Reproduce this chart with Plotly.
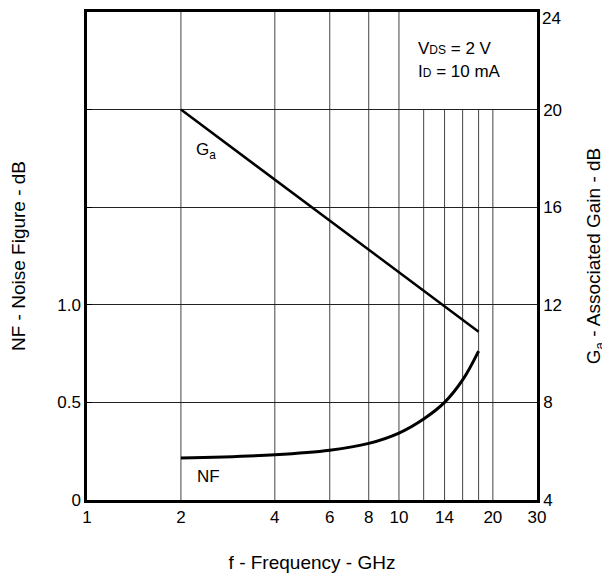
import numpy as np
import plotly.graph_objects as go

# Data
freq_ghz = [2, 4, 6, 8, 10, 12, 14, 16, 18]
gain_db = [20.0, 17.13, 15.45, 14.26, 13.34, 12.58, 11.94, 11.39, 10.9]
nf_db = [0.215, 0.232, 0.255, 0.29, 0.343, 0.415, 0.50, 0.615, 0.763]

x_tick_vals = [1, 2, 4, 6, 8, 10, 14, 20, 27.7]
x_tick_text = ["1", "2", "4", "6", "8", "10", "14", "20", "30"]
grid_full = [2, 4, 6, 8, 10]
grid_partial = [12, 14, 16, 18, 20]

nf_tick_vals = [0, 0.5, 1.0, 1.5, 2.0]
nf_tick_text = ["0", "0.5", "1.0", "", ""]
gain_tick_vals = [4, 8, 12, 16, 20, 24]
gain_tick_text = ["4", "8", "12", "16", "20", "24"]

FONT = "Liberation Sans, Arial, sans-serif"

fig = go.Figure()
fig.add_trace(go.Scatter(x=freq_ghz, y=nf_db, mode="lines", yaxis="y",
                         line=dict(color="black", width=3, shape="spline", smoothing=1.0),
                         showlegend=False, hoverinfo="skip"))
fig.add_trace(go.Scatter(x=freq_ghz, y=gain_db, mode="lines", yaxis="y2",
                         line=dict(color="black", width=2.5),
                         showlegend=False, hoverinfo="skip"))

shapes = []
for f in grid_full:
    shapes.append(dict(type="line", xref="x", yref="y2", x0=f, x1=f, y0=4, y1=24,
                       line=dict(color="#444", width=1), layer="below"))
for f in grid_partial:
    shapes.append(dict(type="line", xref="x", yref="y2", x0=f, x1=f, y0=4, y1=20,
                       line=dict(color="#444", width=1), layer="below"))

# top-most right tick label drawn as annotation so it is not clipped by the page edge
y2_ticktext = gain_tick_text[:-1] + [""]

fig.update_layout(
    width=602, height=567,
    margin=dict(l=79, r=73, t=4, b=75, autoexpand=False),
    paper_bgcolor="white", plot_bgcolor="white",
    font=dict(family=FONT, size=16, color="black"),
    shapes=shapes,
    xaxis=dict(type="log", range=[0, np.log10(27.7)], automargin=False,
               tickvals=x_tick_vals, ticktext=x_tick_text,
               showgrid=False, zeroline=False, ticks="",
               showline=True, linecolor="black", linewidth=2.5, mirror=True,
               title=dict(text="f - Frequency - GHz", standoff=30),
               tickfont=dict(size=17), ticklabeloverflow="allow"),
    yaxis=dict(range=[0, 2.5], tickvals=nf_tick_vals, ticktext=nf_tick_text, automargin=False,
               showgrid=False, zeroline=False, ticks="inside", ticklen=5,
               tickcolor="black", tickwidth=1,
               showline=True, linecolor="black", linewidth=2.5,
               title=dict(text="NF - Noise Figure - dB", standoff=32),
               tickfont=dict(size=17), ticklabeloverflow="allow"),
    yaxis2=dict(range=[4, 24], tickvals=gain_tick_vals, ticktext=y2_ticktext,
                overlaying="y", side="right", automargin=False,
                showgrid=True, gridcolor="#222", gridwidth=1, zeroline=False, ticks="",
                showline=True, linecolor="black", linewidth=2.5,
                title=dict(text="G<sub>a</sub> - Associated Gain - dB", standoff=26),
                tickfont=dict(size=17), ticklabeloverflow="allow"),
    annotations=[
        dict(x=1, y=1, xref="paper", yref="paper", text=gain_tick_text[-1],
             showarrow=False, xanchor="left", yanchor="top", xshift=3, yshift=5,
             font=dict(size=17)),
        dict(x=np.log10(2.2), y=18.3, xref="x", yref="y2", text="G<sub>a</sub>",
             showarrow=False, xanchor="left", yanchor="middle", font=dict(size=17)),
        dict(x=np.log10(2.22), y=4.95, xref="x", yref="y2", text="NF",
             showarrow=False, xanchor="left", yanchor="middle", font=dict(size=17)),
        dict(x=np.log10(11.3), y=22.5, xref="x", yref="y2",
             text="V<span style='font-size:12px'>DS</span> = 2 V",
             showarrow=False, xanchor="left", yanchor="middle", font=dict(size=17)),
        dict(x=np.log10(11.3), y=21.58, xref="x", yref="y2",
             text="I<span style='font-size:12px'>D</span> = 10 mA",
             showarrow=False, xanchor="left", yanchor="middle", font=dict(size=17)),
    ],
)

fig.write_html("out.html")
